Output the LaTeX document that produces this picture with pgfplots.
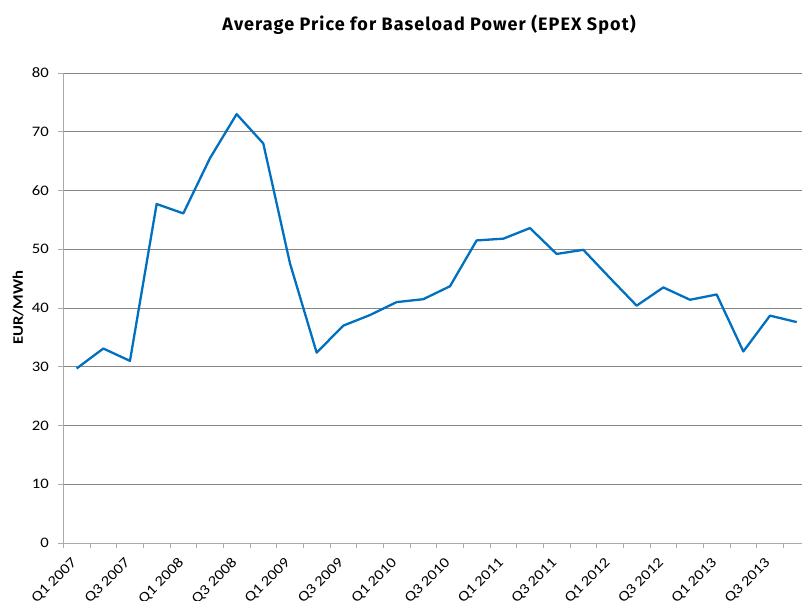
\documentclass[border=0pt]{standalone}
\usepackage{pgfplots}
\pgfplotsset{compat=1.18}
\usepackage{fontspec}
\setmainfont[FakeStretch=1.15]{Carlito}
\newfontfamily\titlefont[LetterSpace=6]{Fira Sans}
\definecolor{lineblue}{RGB}{0,112,192}
\definecolor{gridgray}{RGB}{134,134,134}
\definecolor{axisgray}{RGB}{170,170,170}
\begin{document}
\begin{tikzpicture}
\begin{axis}[
    scale only axis,
    width=738.7bp,
    height=470bp,
    xmin=-0.5, xmax=27.2,
    ymin=0, ymax=80,
    axis x line=bottom,
    axis y line=left,
    axis line style={-, draw=axisgray, line width=0.9bp},
    ytick={0,10,...,80},
    ymajorgrids,
    grid style={draw=gridgray, line width=0.9bp},
    xtick={0,2,...,26},
    xticklabels={Q1 2007,Q3 2007,Q1 2008,Q3 2008,Q1 2009,Q3 2009,Q1 2010,
                 Q3 2010,Q1 2011,Q3 2011,Q1 2012,Q3 2012,Q1 2013,Q3 2013},
    minor xtick={-0.5,0.5,...,26.5},
    major x tick style={draw=none},
    minor x tick style={draw=axisgray, line width=0.9bp},
    y tick style={draw=axisgray, line width=0.9bp},
    tick align=outside,
    major tick length=5bp,
    minor tick length=5bp,
    tick label style={font=\fontsize{14.5bp}{16bp}\selectfont, text=black},
    xticklabel style={xshift=-6bp, yshift=-7bp, rotate=45, anchor=north east, inner sep=1bp},
    yticklabel style={xshift=-6bp},
    /pgf/number format/assume math mode=true,
    ylabel={EUR/MWh},
    ylabel style={at={(axis description cs:-0.0613,0.501)}, anchor=center,
                  font=\bfseries\fontsize{14.5bp}{16bp}\selectfont},
]
\addplot[lineblue, line width=2.3bp, line join=round] coordinates {
    (0,29.7) (1,33.1) (2,31.0) (3,57.7)
    (4,56.1) (5,65.5) (6,73.0) (7,68.0)
    (8,47.6) (9,32.4) (10,37.0) (11,38.8)
    (12,41.0) (13,41.5) (14,43.7) (15,51.5)
    (16,51.8) (17,53.6) (18,49.2) (19,49.9)
    (20,45.1) (21,40.4) (22,43.5) (23,41.4)
    (24,42.3) (25,32.6) (26,38.7) (27,37.6)
};
\end{axis}
\node[font=\titlefont\bfseries\fontsize{18bp}{20bp}\selectfont]
    at ([shift={(365.7bp,48bp)}]current axis.north west)
    {Average Price for Baseload Power (EPEX Spot)};
\pgfresetboundingbox
\path[use as bounding box]
    ([shift={(-63.3bp,-58bp)}]current axis.south west)
    rectangle ([shift={(0bp,73bp)}]current axis.north east);
\end{tikzpicture}
\end{document}
